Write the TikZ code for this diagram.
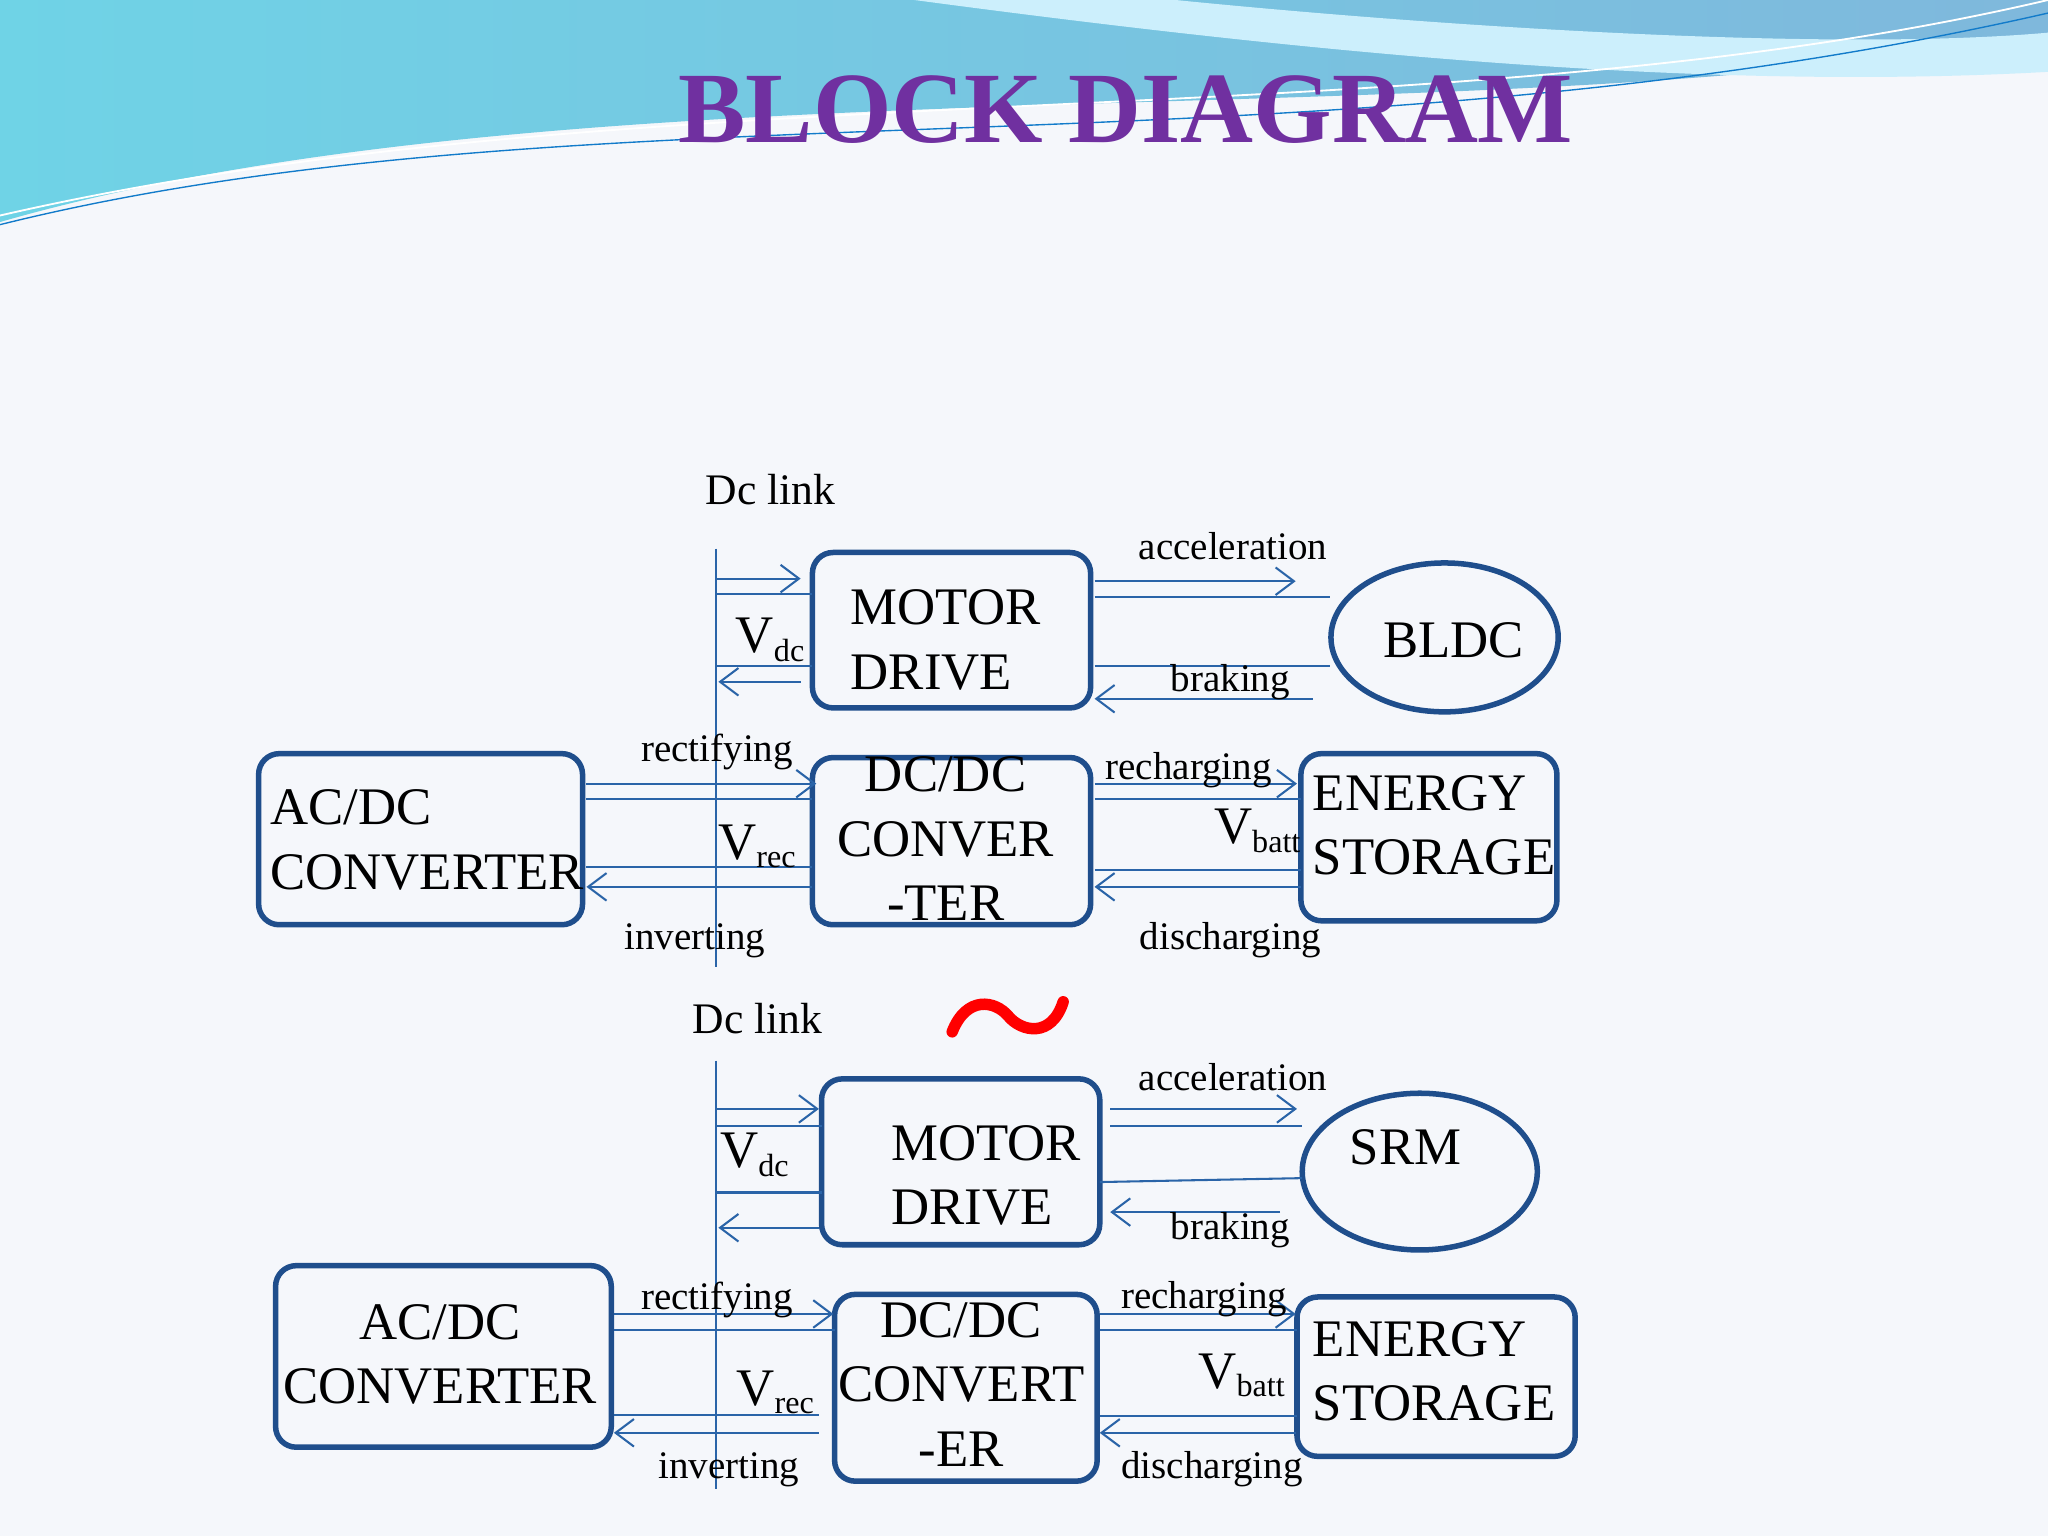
\documentclass[tikz,border=0pt]{standalone}
\usepackage{fontspec}
\setmainfont{Liberation Serif}
\usetikzlibrary{arrows.meta,shapes.geometric}
\definecolor{ln}{HTML}{2A64A8}
\definecolor{bx}{HTML}{1F4E8C}
\definecolor{ttl}{HTML}{7030A0}
\definecolor{hdA}{HTML}{6FD3E6}
\definecolor{hdB}{HTML}{7FB8DC}
\definecolor{bg}{HTML}{F5F7FB}
\begin{document}
\begin{tikzpicture}[x=0.02cm,y=-0.02cm,
  box/.style={draw=bx,line width=2.4pt,rounded corners=9pt},
  big/.style={font=\fontsize{23}{28}\selectfont,align=left},
  lab/.style={font=\fontsize{17}{20}\selectfont},
  arr/.style={draw=ln,line width=0.9pt,-{Straight Barb[length=8pt,width=12pt]}},
  pl/.style={draw=ln,line width=0.9pt}]
\useasboundingbox (0,0) rectangle (1568,1176);
\fill[bg] (0,0) rectangle (1568,1176);
% header wave
\shade[left color=hdA,right color=hdB]
  (0,0) -- (1568,0) -- (1568,25) .. controls (1150,110) and (450,40) .. (0,170) -- cycle;
\fill[white!80!cyan] (700,0) .. controls (1000,40) and (1300,70) .. (1568,55) -- (1568,25) .. controls (1400,40) and (1100,20) .. (900,0) -- cycle;
\draw[white,line width=0.8pt] (0,165) .. controls (500,50) and (1100,110) .. (1568,0);
\draw[cyan!60!blue,line width=0.6pt] (0,172) .. controls (450,60) and (1000,140) .. (1568,10);
\node[font=\fontsize{44}{50}\bfseries,text=ttl] (title) at (862,84) {BLOCK DIAGRAM};

% ===== top diagram =====
\node[font=\fontsize{19}{22}\selectfont] (dl1) at (590,375) {Dc link};
\coordinate (v1a) at (548,420); \coordinate (v1b) at (548,740);
\draw[pl] (v1a) -- (v1b);
\draw[box] (622,423) rectangle (835,542);
\node[big] (md1) at (724,490) {MOTOR\\DRIVE};
\draw[bx,line width=2.4pt] (1106,488) ellipse [x radius=87,y radius=57];
\node[big] (bldc) at (1113,490) {BLDC};
\node[lab] at (944,418) {acceleration};
\draw[arr] (838,445) -- (992,445);
\draw[pl] (838,457) -- (1018,457);
\draw[pl] (838,510) -- (1018,510);
\draw[arr] (1005,535) -- (838,535);
\node[lab] at (942,522) {braking};
\draw[arr] (548,443) -- (613,443);
\draw[pl] (548,455) -- (622,455);
\draw[pl] (548,510) -- (622,510);
\draw[arr] (613,522) -- (550,522);
\node[big] at (590,490) {V\textsubscript{\fontsize{14}{16}\selectfont dc}};
\draw[box] (198,577) rectangle (446,708);
\node[big] (ac1) at (327,643) {AC/DC\\CONVERTER};
\draw[box] (622,580) rectangle (835,708);
\node[big,align=center] (dc1) at (724,642) {DC/DC\\CONVER\\-TER};
\draw[arr] (449,600) -- (625,600);
\draw[pl] (449,612) -- (622,612);
\draw[pl] (449,664) -- (622,664);
\draw[arr] (622,679) -- (449,679);
\node[lab] at (549,576) {rectifying};
\node[big] at (580,648) {V\textsubscript{\fontsize{14}{16}\selectfont rec}};
\node[lab] at (532,720) {inverting};
\draw[box] (996,577) rectangle (1192,705);
\node[big] (es1) at (1098,632) {ENERGY\\STORAGE};
\draw[arr] (838,600) -- (993,600);
\draw[pl] (838,612) -- (996,612);
\draw[pl] (838,666) -- (996,666);
\draw[arr] (996,679) -- (838,679);
\node[lab] at (910,590) {recharging};
\node[big] at (963,636) {V\textsubscript{\fontsize{14}{16}\selectfont batt}};
\node[lab] at (942,720) {discharging};
% red tilde
\draw[red,line width=5pt,line cap=round] (729,790) .. controls (740,762) and (762,766) .. (772,778) .. controls (782,790) and (805,795) .. (814,767);

% ===== bottom diagram =====
\node[font=\fontsize{19}{22}\selectfont] (dl2) at (580,780) {Dc link};
\coordinate (v2a) at (548,812); \coordinate (v2b) at (548,1140);
\draw[pl] (v2a) -- (v2b);
\draw[box] (629,826) rectangle (842,953);
\node[big] (md2) at (755,900) {MOTOR\\DRIVE};
\draw[bx,line width=2.4pt] (1087,897) ellipse [x radius=90,y radius=60];
\node[big] (srm) at (1076,878) {SRM};
\node[lab] at (944,825) {acceleration};
\draw[arr] (850,849) -- (993,849);
\draw[pl] (850,862) -- (997,862);
\draw[pl] (842,905) -- (997,902);
\draw[arr] (980,928) -- (850,928);
\node[lab] at (942,942) {braking};
\draw[arr] (548,849) -- (627,849);
\draw[pl] (548,862) -- (629,862);
\draw[pl] (548,913) -- (629,913);
\draw[arr] (627,940) -- (550,940);
\node[big] at (578,884) {V\textsubscript{\fontsize{14}{16}\selectfont dc}};
\draw[box] (211,969) rectangle (468,1108);
\node[big,align=center] (ac2) at (337,1037) {AC/DC\\CONVERTER};
\draw[box] (639,991) rectangle (840,1134);
\node[big,align=center] (dc2) at (736,1060) {DC/DC\\CONVERT\\-ER};
\draw[arr] (470,1006) -- (638,1006);
\draw[pl] (470,1018) -- (639,1018);
\draw[pl] (470,1083) -- (627,1083);
\draw[arr] (627,1097) -- (470,1097);
\node[lab] at (549,995) {rectifying};
\node[big] at (594,1066) {V\textsubscript{\fontsize{14}{16}\selectfont rec}};
\node[lab] at (558,1125) {inverting};
\draw[box] (993,993) rectangle (1206,1115);
\node[big] (es2) at (1098,1050) {ENERGY\\STORAGE};
\draw[arr] (842,1006) -- (992,1006);
\draw[pl] (842,1018) -- (993,1018);
\draw[pl] (842,1084) -- (993,1084);
\draw[arr] (992,1097) -- (842,1097);
\node[lab] at (922,995) {recharging};
\node[big] at (951,1053) {V\textsubscript{\fontsize{14}{16}\selectfont batt}};
\node[lab] at (928,1125) {discharging};
\end{tikzpicture}
\end{document}
